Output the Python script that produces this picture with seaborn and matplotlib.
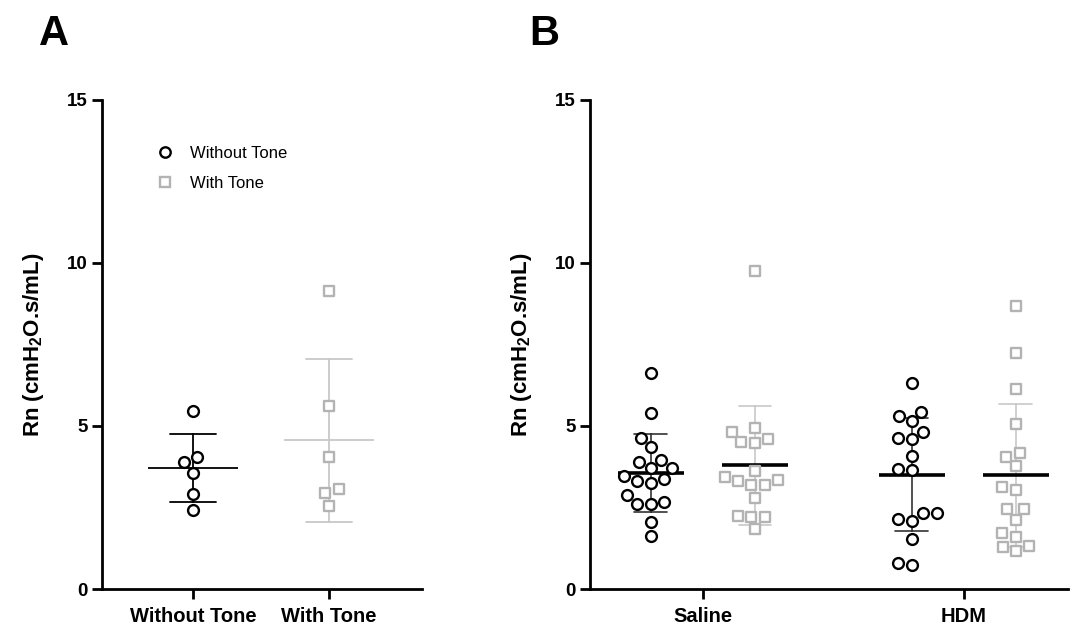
import matplotlib
matplotlib.use("Agg")
import numpy as np
import pandas as pd
import seaborn as sns
import matplotlib.pyplot as plt
from matplotlib.lines import Line2D

sns.set_theme(style="ticks")
plt.rcParams['font.family'] = ['Liberation Sans', 'DejaVu Sans']
plt.rcParams['mathtext.fontset'] = 'custom'
plt.rcParams['mathtext.bf'] = 'Liberation Sans:bold'
plt.rcParams['mathtext.rm'] = 'Liberation Sans:bold'
plt.rcParams['mathtext.default'] = 'bf'
plt.rcParams['text.color'] = 'black'
plt.rcParams['axes.labelcolor'] = 'black'
plt.rcParams['xtick.color'] = 'black'
plt.rcParams['ytick.color'] = 'black'

tones = ['Without Tone', 'With Tone']
groups = ['Saline', 'HDM']

# panel A
a_without = [5.45, 4.06, 3.89, 3.57, 2.90, 2.41]
a_with = [9.15, 5.61, 4.05, 3.06, 2.95, 2.56]

# panel B
saline_without = [6.64, 5.39, 4.64, 4.35, 3.96, 3.89, 3.70, 3.70, 3.48, 3.38,
                  3.32, 3.26, 2.87, 2.66, 2.60, 2.60, 2.06, 1.64]
saline_with = [9.75, 4.95, 4.81, 4.60, 4.52, 4.47, 3.62, 3.45, 3.34, 3.31,
               3.19, 3.19, 2.80, 2.24, 2.22, 2.22, 1.83]
hdm_without = [6.31, 5.44, 5.32, 5.15, 4.83, 4.62, 4.60, 4.07, 3.68, 3.65,
               2.32, 2.32, 2.16, 2.10, 1.53, 0.79, 0.73]
hdm_with = [8.68, 7.23, 6.13, 5.06, 4.16, 4.06, 3.77, 3.12, 3.04, 2.44,
            2.44, 2.12, 1.71, 1.60, 1.32, 1.30, 1.17]

black = '#000000'
grey_pt = '#b3b3b3'
grey_bar = '#c8c8c8'
pt_colors = {'Without Tone': black, 'With Tone': grey_pt}
markers = {'Without Tone': 'o', 'With Tone': 's'}

dfA = pd.DataFrame({'tone': ['Without Tone'] * len(a_without) + ['With Tone'] * len(a_with),
                    'value': a_without + a_with})
rows = []
for g, wo, wi in [('Saline', saline_without, saline_with), ('HDM', hdm_without, hdm_with)]:
    rows += [(g, 'Without Tone', v) for v in wo]
    rows += [(g, 'With Tone', v) for v in wi]
dfB = pd.DataFrame(rows, columns=['group', 'tone', 'value'])

fig = plt.figure(figsize=(10.7, 6.28), dpi=100)
axA = fig.add_axes([0.0953, 0.0621, 0.299, 0.7787])
axB = fig.add_axes([0.5514, 0.0621, 0.4467, 0.7787])

ylabel = r'Rn (cmH$_2$O.s/mL)'


def hollow(ax, n0, color):
    # make the swarm markers open
    for coll in ax.collections[n0:]:
        coll.set_facecolor('white')
        coll.set_edgecolor(color)


# ---- panel A
for t in tones:
    sub = dfA[dfA.tone == t]
    n0 = len(axA.collections)
    sns.swarmplot(data=sub, x='tone', y='value', order=tones, color=pt_colors[t],
                  marker=markers[t], size=7.8, linewidth=1.7, ax=axA)
    hollow(axA, n0, pt_colors[t])
    c = black if t == 'Without Tone' else grey_bar
    sns.pointplot(data=sub, x='tone', y='value', order=tones, errorbar='sd',
                  color=c, markers='_', markersize=65, markeredgewidth=1.3,
                  linestyle='none', capsize=0.34, err_kws={'linewidth': 1.3},
                  ax=axA)

# ---- panel B
for t in tones:
    sub = dfB[dfB.tone == t]
    n0 = len(axB.collections)
    sns.swarmplot(data=sub, x='group', y='value', order=groups, hue='tone',
                  hue_order=tones, palette=pt_colors, dodge=True,
                  marker=markers[t], size=7.8, linewidth=1.7, legend=False, ax=axB)
    hollow(axB, n0, pt_colors[t])
bar_colors = {'Without Tone': '#333333', 'With Tone': grey_bar}
sns.pointplot(data=dfB, x='group', y='value', order=groups, hue='tone',
              hue_order=tones, palette=bar_colors, errorbar='sd', dodge=0.4,
              markers='', linestyle='none', capsize=0.126,
              err_kws={'linewidth': 1.2}, legend=False, ax=axB)
sns.pointplot(data=dfB, x='group', y='value', order=groups, hue='tone',
              hue_order=tones, palette={'Without Tone': black, 'With Tone': black},
              errorbar=None, dodge=0.4, markers='_', markersize=47,
              markeredgewidth=2.6, linestyle='none', legend=False, ax=axB)

for ax, xl, lx in [(axA, (-0.669, 1.684), -0.175), (axB, (-0.433, 1.40), -0.118)]:
    ax.set_xlim(*xl)
    ax.set_ylim(0, 15)
    ax.set_yticks([0, 5, 10, 15])
    ax.set_xlabel('')
    ax.set_ylabel(ylabel, fontsize=16, fontweight='bold')
    ax.yaxis.set_label_coords(lx, 0.5)
    sns.despine(ax=ax)
    for s in ['left', 'bottom']:
        ax.spines[s].set_linewidth(2)
        ax.spines[s].set_color('black')
    ax.tick_params(axis='both', width=2, length=7, color='black',
                   labelsize=13.5, labelcolor='black', pad=3)
    ax.tick_params(axis='x', labelsize=14.5, pad=6)
    for lab in ax.get_xticklabels() + ax.get_yticklabels():
        lab.set_fontweight('bold')
    ax.set_facecolor('white')

handles = [Line2D([], [], marker='o', linestyle='none', markersize=7.5,
                  markerfacecolor='white', markeredgecolor=black, markeredgewidth=1.7),
           Line2D([], [], marker='s', linestyle='none', markersize=7.5,
                  markerfacecolor='white', markeredgecolor=grey_pt, markeredgewidth=1.7)]
axA.legend(handles, tones, frameon=False, loc='upper left', bbox_to_anchor=(0.124, 0.936),
           fontsize=12, handlelength=1, handletextpad=1.0, labelspacing=0.87)

fig.text(0.036, 0.928, 'A', fontsize=30, fontweight='bold', color='black')
fig.text(0.495, 0.928, 'B', fontsize=30, fontweight='bold', color='black')

fig.savefig('out.png', dpi=100, facecolor='white')
